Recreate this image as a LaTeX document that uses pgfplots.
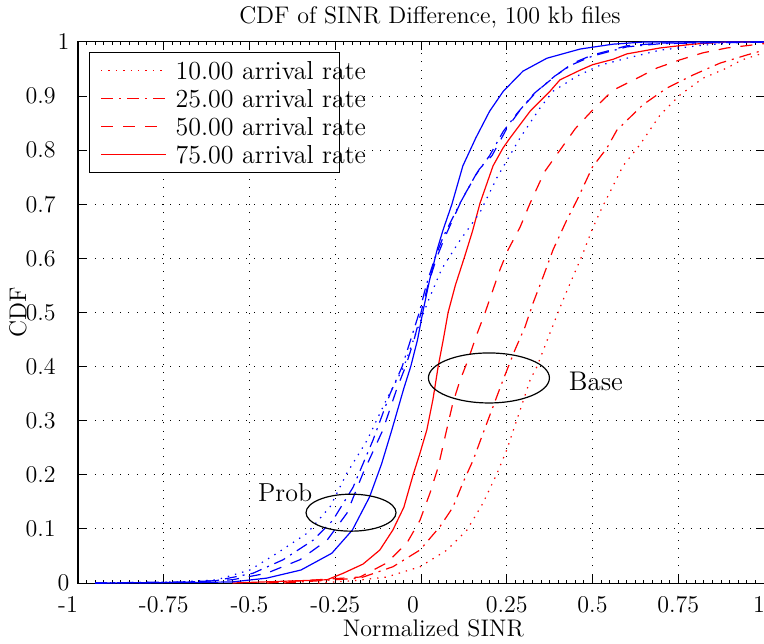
\documentclass[border=0pt]{standalone}
\usepackage{pgfplots}
\pgfplotsset{compat=1.18}
\begin{document}
\begin{tikzpicture}
\begin{axis}[name=ax,
  scale only axis, width=343pt, height=270.5pt,
  xmin=-1, xmax=1, ymin=0, ymax=1,
  xtick={-1,-0.75,-0.5,-0.25,0,0.25,0.5,0.75,1},
  xticklabels={{\makebox[0pt]{\hspace{-10pt}-1}},-0.75,-0.5,-0.25,{\makebox[0pt]{\hspace{-8pt}0}},0.25,0.5,0.75,{\makebox[0pt]{\hspace{-5pt}1}}},
  ytick={0,0.1,0.2,0.3,0.4,0.5,0.6,0.7,0.8,0.9,1},
  yticklabels={{\makebox[0pt][l]{\hspace{1.5pt}0}},0.1,0.2,0.3,0.4,0.5,0.6,0.7,0.8,0.9,{\makebox[0pt][l]{\hspace{1.5pt}1}}},
  minor x tick num=9,
  major tick length=4pt, minor tick length=1.5pt,
  tick style={black, line width=0.5pt},
  tick align=inside,
  axis line style={line width=0.5pt},
  grid=major,
  major grid style={black, line width=0.5pt, dash pattern=on 0.5pt off 3.7pt},
  every tick label/.append style={font=\fontsize{12}{14}\selectfont},
  xticklabel style={anchor=base, yshift=-14.5pt},
  yticklabel style={anchor=east, inner sep=0pt, xshift=-11pt},
  every axis title shift=0pt,
  title={CDF of SINR Difference, 100 kb files},
  title style={at={(axis description cs:0.513,1.0333)}, anchor=base, yshift=0pt, font=\fontsize{12}{14}\selectfont},
  xlabel={Normalized SINR},
  xlabel style={at={(axis description cs:0.518,-0.0998)}, anchor=base, font=\fontsize{12}{14}\selectfont},
  ylabel={CDF},
  ylabel style={at={(axis description cs:-0.0875,0.5)}, anchor=center, font=\fontsize{12}{14}\selectfont},
  legend image code/.code={\draw[#1] (0pt,0pt) -- (32.5pt,0pt);},
  legend cell align=left,
  legend style={at={(axis description cs:0.016,0.9815)}, anchor=north west,
    draw=black, line width=0.5pt, fill=white,
    inner xsep=5.5pt, inner ysep=4.5pt, row sep=5pt, column sep=4.5pt,
    nodes={inner sep=0pt, text height=9pt, text depth=0pt},
    font=\fontsize{13}{15}\selectfont},
  every axis plot/.append style={line width=0.6pt},
]
% ---- Base (red) ----
\addplot[red, dash pattern=on 0.7pt off 3pt] coordinates {
(-0.30,0) (-0.2,0.004) (-0.1,0.011) (-0.003,0.030) (0.076,0.061) (0.134,0.098) (0.181,0.148)
(0.222,0.203) (0.25,0.246) (0.286,0.314) (0.318,0.375) (0.338,0.40) (0.376,0.462)
(0.414,0.523) (0.472,0.609) (0.50,0.655) (0.525,0.69) (0.589,0.771) (0.638,0.81)
(0.697,0.865) (0.755,0.902) (0.822,0.933) (0.892,0.952) (0.936,0.967) (1,0.98)};
\addlegendentry{\makebox[76.5pt][l]{10.00 arrival rate}}
\addplot[red, dash pattern=on 6pt off 3pt on 1pt off 3pt] coordinates {
(-0.40,0) (-0.178,0.009) (-0.082,0.030) (-0.003,0.061) (0.055,0.104) (0.093,0.140)
(0.122,0.185) (0.152,0.227) (0.181,0.277) (0.210,0.326) (0.239,0.375) (0.274,0.431)
(0.303,0.473) (0.327,0.518) (0.356,0.566) (0.385,0.616) (0.425,0.671) (0.455,0.708)
(0.50,0.769) (0.542,0.804) (0.571,0.837) (0.647,0.884) (0.717,0.915) (0.793,0.939)
(0.872,0.961) (0.95,0.976) (1,0.985)};
\addlegendentry{\makebox[76.5pt][l]{25.00 arrival rate}}
\addplot[red, dash pattern=on 6pt off 5pt] coordinates {
(-0.45,0) (-0.178,0.011) (-0.10,0.037) (-0.041,0.074) (-0.003,0.116) (0.026,0.166)
(0.05,0.214) (0.07,0.27) (0.093,0.333) (0.114,0.375) (0.137,0.412) (0.163,0.46)
(0.187,0.50) (0.23,0.579) (0.254,0.616) (0.289,0.658) (0.318,0.702) (0.36,0.76)
(0.405,0.80) (0.45,0.84) (0.50,0.874) (0.56,0.911) (0.63,0.933) (0.688,0.952)
(0.755,0.967) (0.822,0.98) (0.892,0.989) (0.96,0.994) (1,0.997)};
\addlegendentry{\makebox[76.5pt][l]{50.00 arrival rate}}
\addplot[red] coordinates {
(-0.55,0) (-0.274,0.006) (-0.227,0.018) (-0.169,0.035) (-0.12,0.061) (-0.082,0.098)
(-0.05,0.14) (-0.023,0.20) (-0.003,0.24) (0.017,0.283) (0.035,0.34) (0.05,0.40)
(0.065,0.45) (0.079,0.50) (0.10,0.55) (0.128,0.605) (0.15,0.65) (0.172,0.702)
(0.21,0.771) (0.239,0.804) (0.26,0.823) (0.318,0.872) (0.376,0.909) (0.405,0.93)
(0.464,0.948) (0.50,0.958) (0.56,0.968) (0.60,0.978) (0.697,0.989) (0.793,0.996)
(0.89,1.0) (1,1)};
\addlegendentry{\makebox[76.5pt][l]{75.00 arrival rate}}
% ---- Prob (blue) ----
\addplot[blue, dash pattern=on 0.7pt off 3pt, forget plot] coordinates {
(-0.95,0) (-0.70,0.002) (-0.595,0.006) (-0.499,0.024) (-0.42,0.055) (-0.332,0.092)
(-0.265,0.141) (-0.216,0.203) (-0.157,0.264) (-0.10,0.34) (-0.05,0.40) (-0.01,0.47)
(0.02,0.52) (0.06,0.58) (0.11,0.63) (0.172,0.685) (0.222,0.75) (0.289,0.823)
(0.347,0.878) (0.385,0.909) (0.455,0.937) (0.522,0.957) (0.60,0.97) (0.697,0.985)
(0.82,0.994) (0.95,1.0) (1,1)};
\addplot[blue, dash pattern=on 6pt off 3pt on 1pt off 3pt, forget plot] coordinates {
(-0.95,0) (-0.70,0.002) (-0.60,0.004) (-0.49,0.018) (-0.402,0.043) (-0.315,0.079)
(-0.257,0.116) (-0.198,0.177) (-0.14,0.264) (-0.09,0.35) (-0.055,0.40) (-0.03,0.45)
(-0.005,0.50) (0.015,0.55) (0.04,0.60) (0.065,0.64) (0.112,0.70) (0.16,0.755)
(0.20,0.79) (0.24,0.835) (0.28,0.868) (0.33,0.905) (0.39,0.937) (0.44,0.958)
(0.50,0.974) (0.60,0.991) (0.70,0.997) (1,1)};
\addplot[blue, dash pattern=on 6pt off 5pt, forget plot] coordinates {
(-0.95,0) (-0.70,0.001) (-0.55,0.006) (-0.45,0.018) (-0.353,0.043) (-0.274,0.079)
(-0.216,0.129) (-0.169,0.203) (-0.111,0.283) (-0.07,0.36) (-0.045,0.40) (-0.02,0.45)
(0,0.50) (0.02,0.55) (0.045,0.60) (0.07,0.64) (0.12,0.71) (0.17,0.765) (0.207,0.79)
(0.251,0.841) (0.29,0.875) (0.338,0.909) (0.397,0.94) (0.443,0.961) (0.50,0.976)
(0.542,0.983) (0.60,0.993) (0.70,0.998) (1,1)};
\addplot[blue, forget plot] coordinates {
(-0.95,0) (-0.65,0.001) (-0.55,0.002) (-0.45,0.009) (-0.35,0.024) (-0.26,0.055)
(-0.20,0.098) (-0.15,0.159) (-0.115,0.22) (-0.085,0.283) (-0.05,0.36) (-0.03,0.40)
(-0.01,0.45) (0.005,0.50) (0.025,0.56) (0.047,0.616) (0.064,0.652) (0.09,0.70)
(0.122,0.771) (0.16,0.823) (0.20,0.872) (0.24,0.909) (0.297,0.946) (0.367,0.97)
(0.464,0.987) (0.56,0.996) (0.65,1.0) (1,1)};
% ---- annotations ----
\draw[line width=0.6pt] (axis cs:0.198,0.379) ellipse [x radius=30.25pt, y radius=12.5pt];
\draw[line width=0.6pt] (axis cs:-0.204,0.130) ellipse [x radius=22.5pt, y radius=9.25pt];
\node[font=\fontsize{13.5}{16}\selectfont] at (axis cs:0.51,0.373) {Base};
\node[font=\fontsize{13}{16}\selectfont] at (axis cs:-0.396,0.168) {Prob};
\end{axis}
\pgfresetboundingbox
\path[use as bounding box] ([xshift=-39pt,yshift=-30pt]ax.south west) rectangle ([yshift=21pt]ax.north east);
\end{tikzpicture}
\end{document}
